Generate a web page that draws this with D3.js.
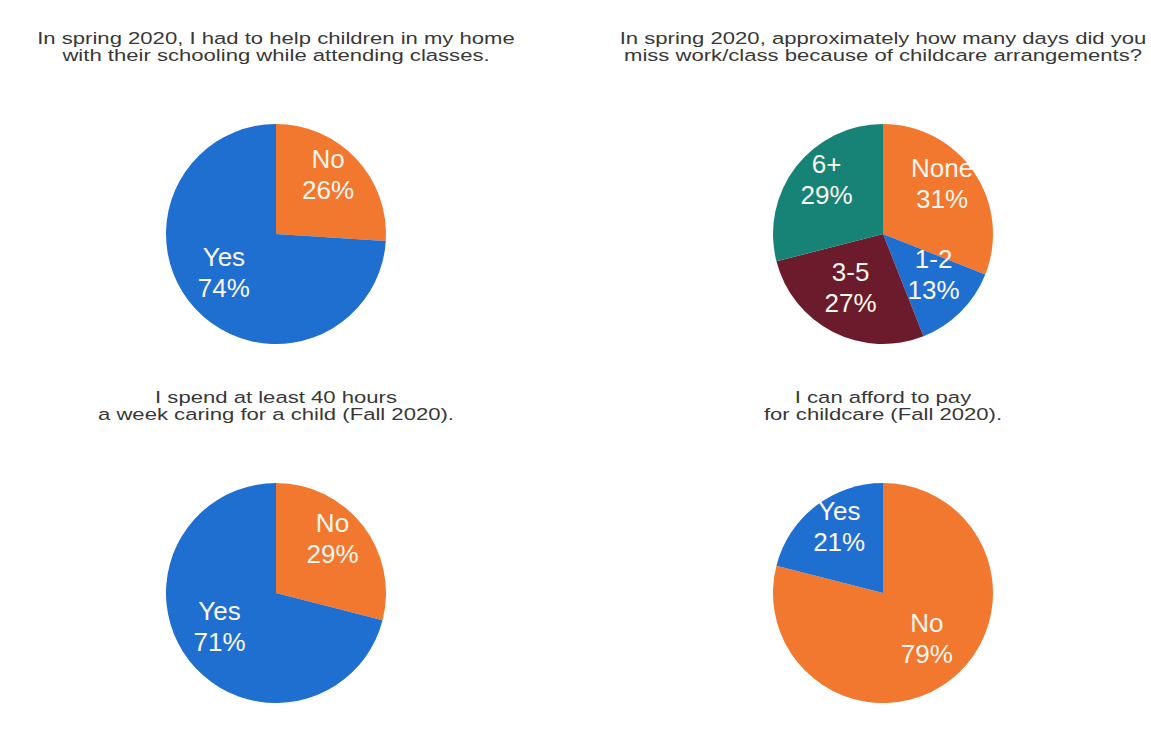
<!DOCTYPE html>
<html>
<head>
<meta charset="utf-8">
<script src="https://cdn.jsdelivr.net/npm/d3@7"></script>
<style>
  html, body { margin: 0; padding: 0; background: #fff; }
  svg { display: block; }
  text { font-family: "Liberation Sans", Arial, Helvetica, sans-serif; }
</style>
</head>
<body>
<svg id="chart" width="1151" height="733"></svg>
<script>
// Survey questions (two title lines each)
const titleHelp = ["In spring 2020, I had to help children in my home", "with their schooling while attending classes."];
const titleMissed = ["In spring 2020, approximately how many days did you", "miss work/class because of childcare arrangements?"];
const titleHours = ["I spend at least 40 hours", "a week caring for a child (Fall 2020)."];
const titleAfford = ["I can afford to pay", "for childcare (Fall 2020)."];

// Answer categories and percentages
const helpLabels = ["No", "Yes"];
const helpValues = [26, 74];
const missedLabels = ["None", "1-2", "3-5", "6+"];
const missedValues = [31, 13, 27, 29];
const hoursLabels = ["No", "Yes"];
const hoursValues = [29, 71];
const affordLabels = ["No", "Yes"];
const affordValues = [79, 21];

const colorByLabel = {
  "No": "#f2782f",
  "None": "#f2782f",
  "Yes": "#1f6fd1",
  "1-2": "#1f6fd1",
  "3-5": "#6b1b2c",
  "6+": "#178377"
};

const svg = d3.select("#chart");
const radius = 110;

const colX = d3.scalePoint().domain([0, 1]).range([276, 883]);
const rowY = d3.scalePoint().domain([0, 1]).range([234, 593]);

const panels = [
  { col: 0, row: 0, title: titleHelp, labels: helpLabels, values: helpValues },
  { col: 1, row: 0, title: titleMissed, labels: missedLabels, values: missedValues },
  { col: 0, row: 1, title: titleHours, labels: hoursLabels, values: hoursValues },
  { col: 1, row: 1, title: titleAfford, labels: affordLabels, values: affordValues }
];

const pie = d3.pie().sort(null).value(d => d.value);
const arc = d3.arc().innerRadius(0).outerRadius(radius);
const labelArc = d3.arc().innerRadius(radius * 0.65).outerRadius(radius * 0.65);

panels.forEach(p => {
  const cx = colX(p.col), cy = rowY(p.row);
  const g = svg.append("g");

  // two-line title above each pie
  const t = g.append("g")
    .attr("transform", `translate(${cx},${cy - 190}) scale(1.3,1)`);
  t.selectAll("text")
    .data(p.title)
    .join("text")
    .attr("x", 0)
    .attr("y", (d, i) => i * 17)
    .attr("text-anchor", "middle")
    .attr("font-size", 17)
    .attr("fill", "#383838")
    .text(d => d);

  const data = p.labels.map((l, i) => ({ label: l, value: p.values[i] }));
  const arcs = pie(data);
  const pg = g.append("g").attr("transform", `translate(${cx},${cy})`);

  pg.selectAll("path")
    .data(arcs)
    .join("path")
    .attr("d", arc)
    .attr("fill", d => colorByLabel[d.data.label]);

  const lbl = pg.selectAll("g.lbl")
    .data(arcs)
    .join("g")
    .attr("class", "lbl")
    .attr("transform", d => `translate(${labelArc.centroid(d)})`);

  lbl.append("text")
    .attr("text-anchor", "middle")
    .attr("y", -17)
    .attr("font-size", 26)
    .attr("fill", "#fbf6ee")
    .text(d => d.data.label);

  lbl.append("text")
    .attr("text-anchor", "middle")
    .attr("y", 14)
    .attr("font-size", 26)
    .attr("fill", "#fbf6ee")
    .text(d => d.data.value + "%");
});
</script>
</body>
</html>
